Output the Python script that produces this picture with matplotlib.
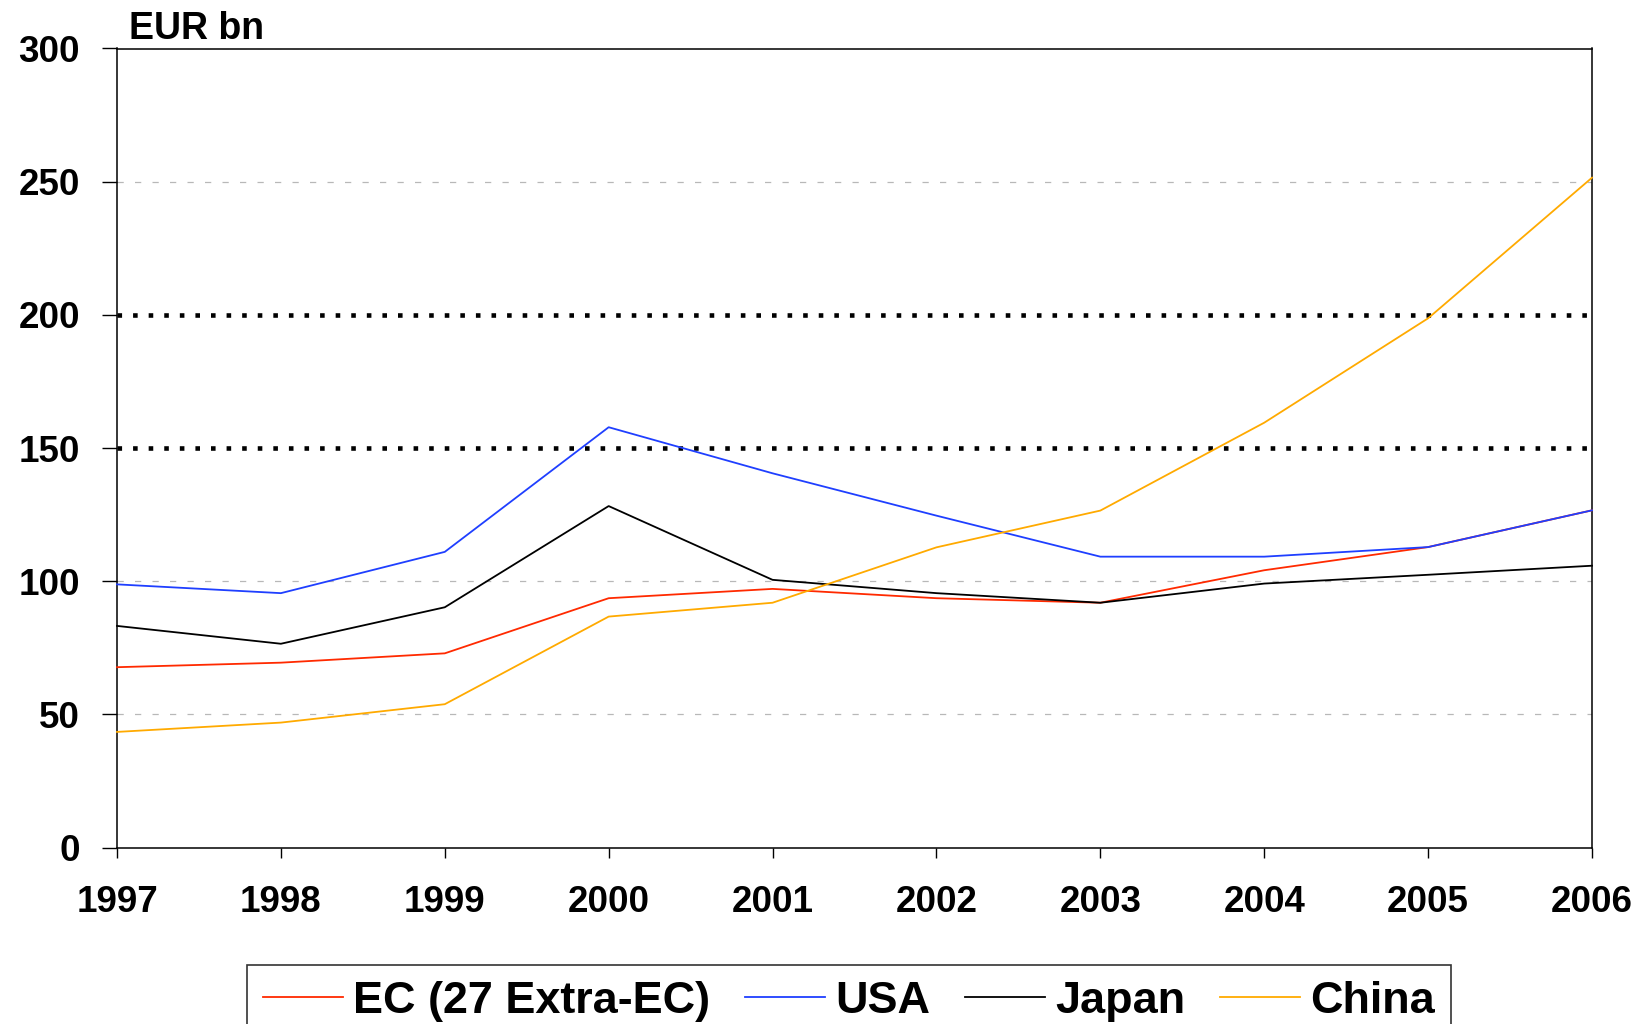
import numpy as np
import matplotlib
matplotlib.use('Agg')
import matplotlib.pyplot as plt

plt.rcParams['font.family'] = ['Liberation Sans', 'DejaVu Sans']
plt.rcParams['font.weight'] = 'bold'

years = ['1997', '1998', '1999', '2000', '2001', '2002', '2003', '2004', '2005', '2006']
ec = [67.7, 69.4, 72.9, 93.6, 97.1, 93.6, 91.9, 104.1, 112.8, 126.6]
usa = [98.8, 95.5, 111.0, 157.8, 140.5, 124.6, 109.2, 109.2, 112.8, 126.6]
japan = [83.2, 76.5, 90.2, 128.2, 100.5, 95.5, 91.9, 99.1, 102.4, 105.8]
china = [43.4, 46.9, 53.8, 86.7, 91.9, 112.7, 126.5, 159.5, 198.7, 251.5]

series_names = ['EC (27 Extra-EC)', 'USA', 'Japan', 'China']
series_colors = ['#ff2a00', '#1f3fff', '#000000', '#ffaa00']

yticks = [0, 50, 100, 150, 200, 250, 300]
grey_grid = [50, 100, 250, 300]
dotted_grid = [150, 200]

W, H = 1635, 1024
fig = plt.figure(figsize=(W / 100, H / 100), dpi=100)
ax = fig.add_axes([117 / W, 1 - 847.5 / H, (1592 - 117) / W, (847.5 - 48.5) / H])

x = np.arange(len(years))

# grid lines first so the data sits on top
for g in grey_grid:
    ax.axhline(g, color='#b8b8b8', lw=0.9, linestyle=(0, (5, 9)), zorder=1)
for g in dotted_grid:
    ax.axhline(g, color='black', lw=3.3, linestyle=(0, (1.0, 2.4)),
               dash_capstyle='butt', zorder=1)

handles = []
for vals, name, col in zip([ec, usa, japan, china], series_names, series_colors):
    h, = ax.plot(x, vals, color=col, lw=1.3, label=name, zorder=3, clip_on=False)
    handles.append(h)

ax.set_xlim(0, len(years) - 1)
ax.set_ylim(0, 300)
ax.set_xticks(x)
ax.set_xticklabels(years)
ax.set_yticks(yticks)
ax.set_yticklabels([str(v) for v in yticks])

for s in ax.spines.values():
    s.set_linewidth(1.1)
    s.set_color('black')

ax.tick_params(axis='y', direction='out', length=10.8, width=1.0, pad=16,
               labelsize=26.5)
ax.tick_params(axis='x', direction='out', length=7.2, width=1.0, pad=19.5,
               labelsize=26.5)
for lab in ax.get_xticklabels() + ax.get_yticklabels():
    lab.set_fontweight('bold')

fig.text(129 / W, 1 - 39 / H, 'EUR bn', fontsize=27, fontweight='bold',
         ha='left', va='baseline')

leg = fig.legend(handles=handles, labels=series_names, loc='upper left',
                 bbox_to_anchor=(247 / W, 1 - 965 / H), ncol=4,
                 prop={'size': 32.4, 'weight': 'bold'},
                 handlelength=1.78, handletextpad=0.22, columnspacing=0.78,
                 borderpad=0.35, borderaxespad=0, fancybox=False,
                 frameon=True, edgecolor='black')
leg.get_frame().set_linewidth(1.2)
for lh in leg.get_lines():
    lh.set_linewidth(1.3)

fig.savefig('out.png', dpi=100)
